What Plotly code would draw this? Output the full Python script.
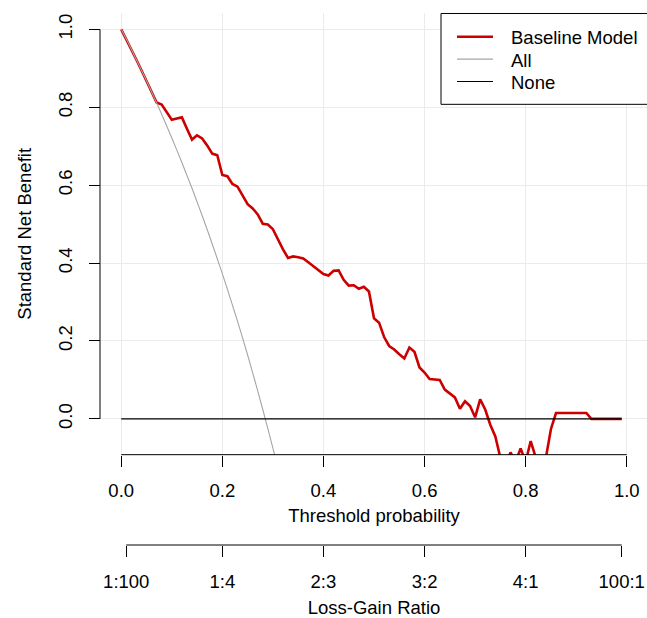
import plotly.graph_objects as go

# ---------------- data ----------------
thresholds = [round(i * 0.01, 2) for i in range(100)]  # 0.00 ... 0.99

baseline_model = [
    1.000, 0.975, 0.949, 0.922, 0.895, 0.868, 0.840, 0.812, 0.807, 0.787,
    0.768, 0.771, 0.774, 0.745, 0.717, 0.728, 0.720, 0.702, 0.681, 0.677,
    0.626, 0.623, 0.603, 0.596, 0.575, 0.551, 0.540, 0.525, 0.501, 0.499,
    0.487, 0.460, 0.435, 0.413, 0.417, 0.415, 0.412, 0.402, 0.392, 0.381,
    0.372, 0.368, 0.380, 0.381, 0.357, 0.342, 0.343, 0.334, 0.339, 0.327,
    0.258, 0.247, 0.210, 0.187, 0.178, 0.166, 0.155, 0.183, 0.172, 0.132,
    0.119, 0.102, 0.101, 0.100, 0.075, 0.065, 0.055, 0.026, 0.045, 0.033,
    0.004, 0.050, 0.024, -0.015, -0.045, -0.100, -0.120, -0.086, -0.110, -0.076,
    -0.110, -0.057, -0.100, -0.120, -0.100, -0.026, 0.015, 0.015, 0.015, 0.015,
    0.015, 0.015, 0.015, 0.000, 0.000, 0.000, 0.000, 0.000, 0.000, 0.000,
]

all_thresholds = [round(i * 0.01, 2) for i in range(33)]  # 0.00 ... 0.32
treat_all = [
    1.000, 0.975, 0.949, 0.922, 0.895, 0.868, 0.840, 0.811, 0.782, 0.752,
    0.721, 0.690, 0.658, 0.625, 0.592, 0.557, 0.522, 0.486, 0.449, 0.411,
    0.373, 0.333, 0.292, 0.251, 0.208, 0.164, 0.118, 0.072, 0.024, -0.025,
    -0.075, -0.127, -0.181,
]

none_x = [0.0, 0.99]
none_y = [0.0, 0.0]

series_names = ["Baseline Model", "All", "None"]
series_colors = ["#CD0000", "#A6A6A6", "black"]
series_widths = [2.6, 1.1, 1.1]

x_ticks = [0.0, 0.2, 0.4, 0.6, 0.8, 1.0]
x_ticklabels = ["0.0", "0.2", "0.4", "0.6", "0.8", "1.0"]
y_ticks = [0.0, 0.2, 0.4, 0.6, 0.8, 1.0]
y_ticklabels = ["0.0", "0.2", "0.4", "0.6", "0.8", "1.0"]
lg_ticks = [0.0099, 0.2, 0.4, 0.6, 0.8, 0.99]
lg_ticklabels = ["1:100", "1:4", "2:3", "3:2", "4:1", "100:1"]

# ---------------- layout constants ----------------
W, H = 647, 618
ML, MR, MT, MB = 101, 0, 13, 618 - 549
paper_w = W - ML - MR
paper_h = H - MT - MB
plot_bottom = 458
ydom0 = (H - MB - plot_bottom) / paper_h


def px_x(px):  # page px -> paper x
    return (px - ML) / paper_w


def px_y(py):  # page px -> paper y
    return (H - MB - py) / paper_h


FONT = "Liberation Sans, Arial, sans-serif"
FS = 18.5
GRID = "#EBEBEB"

fig = go.Figure()

fig.add_trace(go.Scatter(
    x=thresholds, y=baseline_model, mode="lines", name=series_names[0],
    line=dict(color=series_colors[0], width=series_widths[0]),
))
fig.add_trace(go.Scatter(
    x=all_thresholds, y=treat_all, mode="lines", name=series_names[1],
    line=dict(color=series_colors[1], width=series_widths[1], shape="spline"),
))
fig.add_trace(go.Scatter(
    x=none_x, y=none_y, mode="lines", name=series_names[2],
    line=dict(color=series_colors[2], width=series_widths[2]),
))
# carrier for the secondary (Loss-Gain Ratio) axis
fig.add_trace(go.Scatter(
    x=lg_ticks, y=[None] * len(lg_ticks), xaxis="x2", yaxis="y",
    mode="lines", showlegend=False, hoverinfo="skip",
))

# ---- legend drawn in the style of base R legend() ----
legend_shapes = [
    dict(type="rect", xref="paper", yref="paper",
         x0=px_x(441), x1=px_x(660), y0=px_y(105), y1=px_y(13.5),
         line=dict(color="black", width=1), fillcolor="white", layer="above"),
]
legend_annots = []
row_y = [37, 59.5, 82]
for name, col, wdt, ry in zip(series_names, series_colors, series_widths, row_y):
    legend_shapes.append(dict(
        type="line", xref="paper", yref="paper",
        x0=px_x(457), x1=px_x(493), y0=px_y(ry), y1=px_y(ry),
        line=dict(color=col, width=wdt), layer="above"))
    legend_annots.append(dict(
        xref="paper", yref="paper", x=px_x(509), y=px_y(ry + 1),
        xanchor="left", yanchor="middle", showarrow=False, text=name,
        font=dict(family=FONT, size=FS, color="black")))

axis_shapes = [
    # main x axis line (tick range only, as in base R)
    dict(type="line", xref="x", yref="y domain", x0=0, x1=1, y0=0, y1=0,
         line=dict(color="black", width=1)),
    # y axis line
    dict(type="line", xref="paper", yref="y", x0=px_x(100), x1=px_x(100), y0=0, y1=1,
         line=dict(color="black", width=1)),
    # Loss-Gain axis line
    dict(type="line", xref="x", yref="paper", x0=lg_ticks[0], x1=lg_ticks[-1],
         y0=0, y1=0, line=dict(color="black", width=1)),
]

fig.update_layout(
    width=W, height=H,
    margin=dict(l=ML, r=MR, t=MT, b=MB),
    paper_bgcolor="white", plot_bgcolor="white",
    font=dict(family=FONT, size=FS, color="black"),
    showlegend=False,
    xaxis=dict(
        range=[-0.04, 1.04], domain=[0, 1],
        tickmode="array", tickvals=x_ticks, ticktext=x_ticklabels,
        ticks="outside", ticklen=11, tickwidth=1, tickcolor="black",
        showgrid=True, gridcolor=GRID, gridwidth=1,
        zeroline=False, showline=False,
        ticklabelstandoff=8,
        title=dict(text="Threshold probability", standoff=9,
                   font=dict(family=FONT, size=FS)),
        anchor="y",
    ),
    xaxis2=dict(
        range=[-0.04, 1.04], overlaying="x", anchor="free", position=0,
        side="bottom",
        tickmode="array", tickvals=lg_ticks, ticktext=lg_ticklabels,
        ticks="outside", ticklen=11, tickwidth=1, tickcolor="black",
        showgrid=False, zeroline=False, showline=False,
        ticklabelstandoff=9,
        title=dict(text="Loss-Gain Ratio", standoff=13,
                   font=dict(family=FONT, size=FS)),
    ),
    yaxis=dict(
        range=[-0.092, 1.042], domain=[ydom0, 1],
        tickmode="array", tickvals=y_ticks, ticktext=y_ticklabels,
        tickangle=-90,
        ticks="outside", ticklen=11, tickwidth=1, tickcolor="black",
        showgrid=True, gridcolor=GRID, gridwidth=1,
        zeroline=False, showline=False,
        ticklabelstandoff=10,
        title=dict(text="Standard Net Benefit", standoff=18,
                   font=dict(family=FONT, size=FS)),
    ),
    shapes=axis_shapes + legend_shapes,
    annotations=legend_annots,
)

fig.write_html(
    "out.html",
    config={"displayModeBar": False},
    post_script="document.body.style.margin='0';document.body.style.overflow='hidden';",
)
